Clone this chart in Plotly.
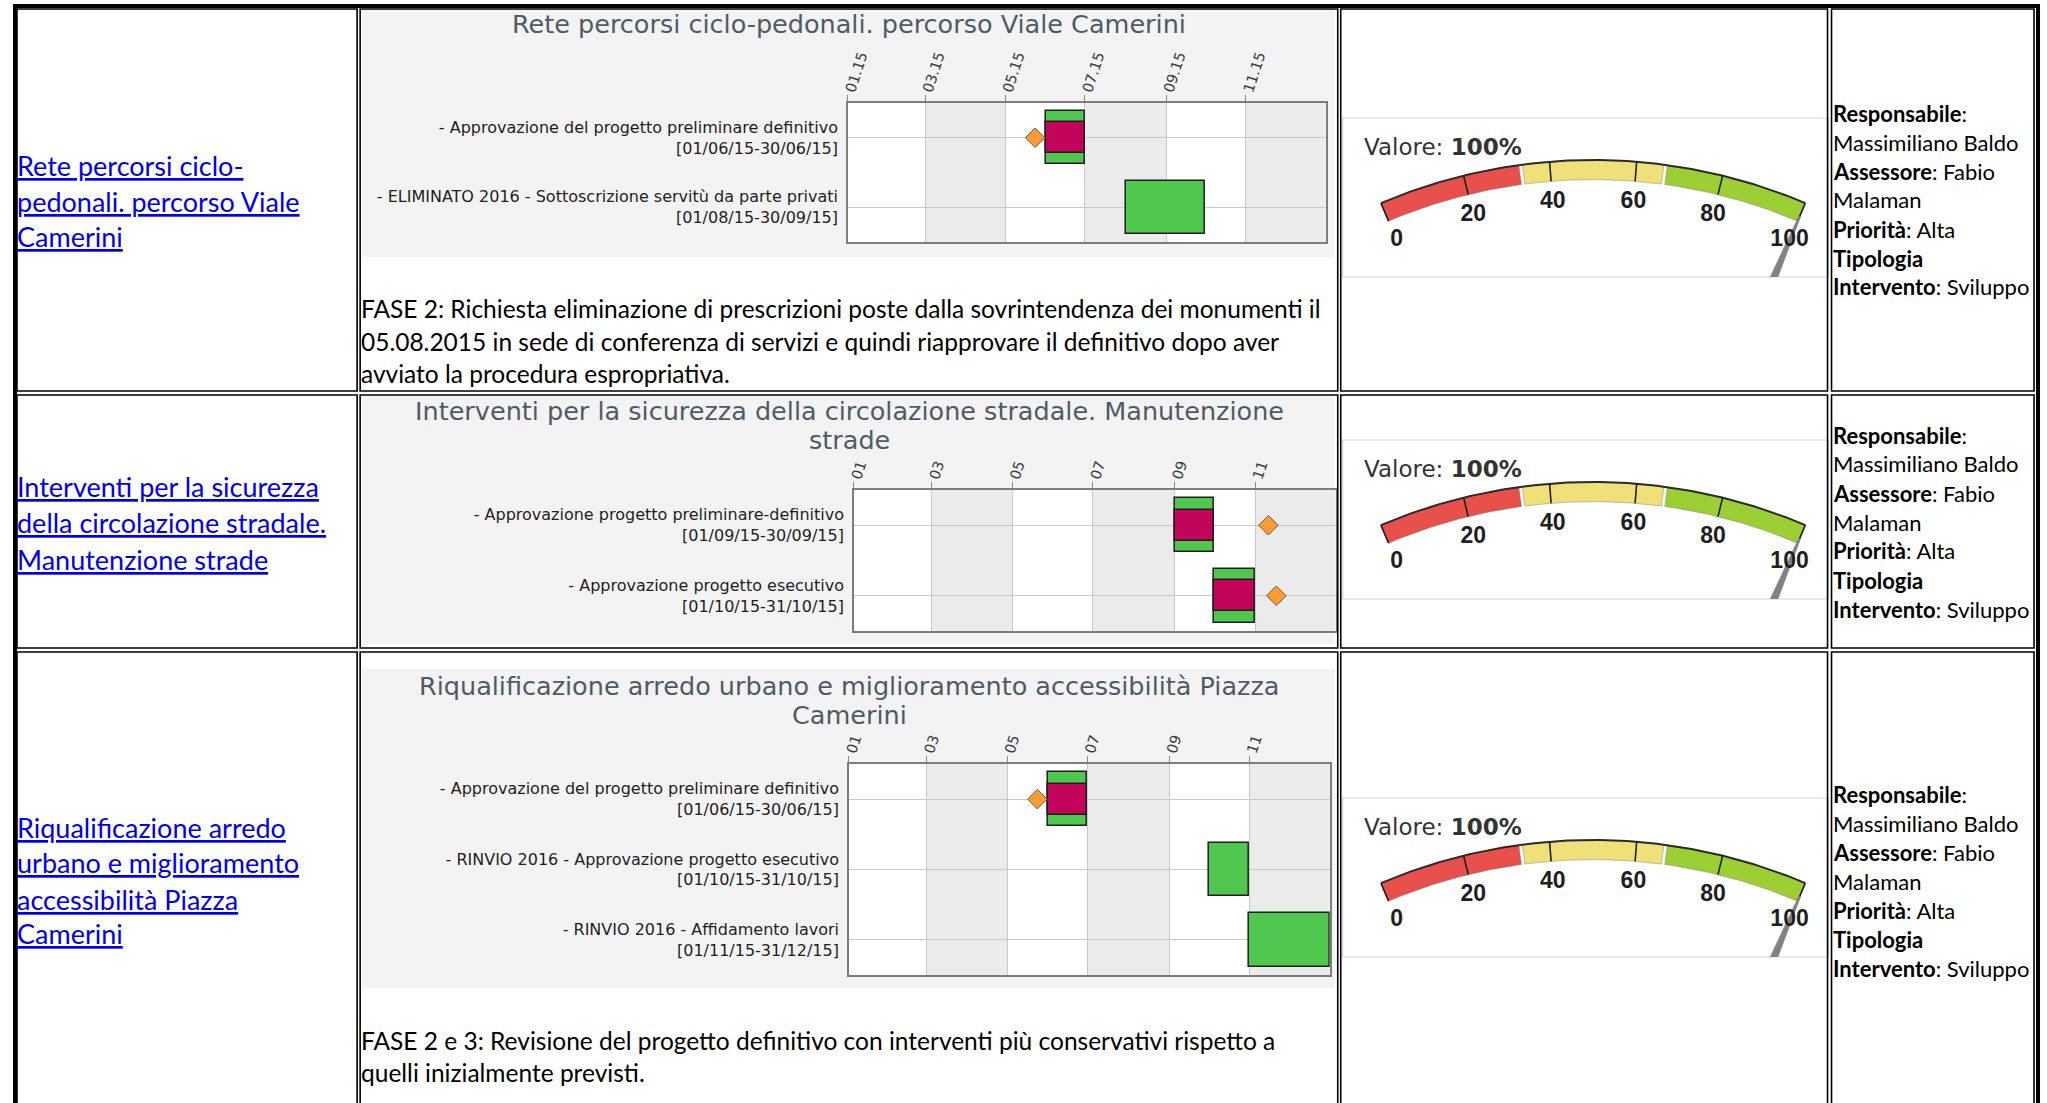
import numpy as np
import pandas as pd
import plotly.graph_objects as go

W, H = 2047, 1103

# ---------------- data ----------------
TICK_DATES = ['2015-01-01', '2015-03-01', '2015-05-01', '2015-07-01', '2015-09-01', '2015-11-01']
TICK_TEXT_LONG = ['01.15', '03.15', '05.15', '07.15', '09.15', '11.15']
TICK_TEXT_SHORT = ['01', '03', '05', '07', '09', '11']
AXIS_RANGE = ['2015-01-01', '2016-01-01']

G1_TITLE = ['Rete percorsi ciclo-pedonali. percorso Viale Camerini']
G1_TASKS = ['- Approvazione del progetto preliminare definitivo<br>[01/06/15-30/06/15]',
            '- ELIMINATO 2016 - Sottoscrizione servitù da parte privati<br>[01/08/15-30/09/15]']
G1_PLAN_START = ['2015-06-01', '2015-08-01']
G1_PLAN_END = ['2015-06-30', '2015-09-30']
G1_REAL_START = ['2015-06-01', None]
G1_REAL_END = ['2015-06-30', None]
G1_MILESTONE = ['2015-05-24', None]

G2_TITLE = ['Interventi per la sicurezza della circolazione stradale. Manutenzione', 'strade']
G2_TASKS = ['- Approvazione progetto preliminare-definitivo<br>[01/09/15-30/09/15]',
            '- Approvazione progetto esecutivo<br>[01/10/15-31/10/15]']
G2_PLAN_START = ['2015-09-01', '2015-10-01']
G2_PLAN_END = ['2015-09-30', '2015-10-31']
G2_REAL_START = ['2015-09-01', '2015-10-01']
G2_REAL_END = ['2015-09-30', '2015-10-31']
G2_MILESTONE = ['2015-11-11', '2015-11-17']

G3_TITLE = ['Riqualificazione arredo urbano e miglioramento accessibilità Piazza', 'Camerini']
G3_TASKS = ['- Approvazione del progetto preliminare definitivo<br>[01/06/15-30/06/15]',
            '- RINVIO 2016 - Approvazione progetto esecutivo<br>[01/10/15-31/10/15]',
            '- RINVIO 2016 - Affidamento lavori<br>[01/11/15-31/12/15]']
G3_PLAN_START = ['2015-06-01', '2015-10-01', '2015-11-01']
G3_PLAN_END = ['2015-06-30', '2015-10-31', '2015-12-31']
G3_REAL_START = ['2015-06-01', None, None]
G3_REAL_END = ['2015-06-30', None, None]
G3_MILESTONE = ['2015-05-24', None, None]

LINK_ROW1 = ['Rete percorsi ciclo-', 'pedonali. percorso Viale', 'Camerini']
LINK_ROW2 = ['Interventi per la sicurezza', 'della circolazione stradale.', 'Manutenzione strade']
LINK_ROW3 = ['Riqualificazione arredo', 'urbano e miglioramento', 'accessibilità Piazza', 'Camerini']

NOTE_ROW1 = ['FASE 2: Richiesta eliminazione di prescrizioni poste dalla sovrintendenza dei monumenti il',
             '05.08.2015 in sede di conferenza di servizi e quindi riapprovare il definitivo dopo aver',
             'avviato la procedura espropriativa.']
NOTE_ROW3 = ['FASE 2 e 3: Revisione del progetto definitivo con interventi più conservativi rispetto a',
             'quelli inizialmente previsti.']

INFO_LINES = ['<b>Responsabile</b>:', 'Massimiliano Baldo', '<b>Assessore</b>: Fabio', 'Malaman',
              '<b>Priorità</b>: Alta', '<b>Tipologia</b>', '<b>Intervento</b>: Sviluppo']

GAUGE_VALUES = [100, 100, 100]
GAUGE_BANDS = [0, 33.3, 66.7, 100]
GAUGE_BAND_COLORS = ['#e8504b', '#f0e07a', '#9ccf33']
GAUGE_LABELS = [0, 20, 40, 60, 80, 100]

# ---------------- styles / layout positions (px) ----------------
GREEN = '#50c850'
MAGENTA = '#c2055a'
ORANGE = '#ff9b30'
EDGE = '#1e1e1e'
GRID = '#c9c9c9'
FRAME = '#7d7d7d'
TITLE_COLOR = '#4e5b67'

GANTT_PLOT = [(845, 1324, 103, 242), (851, 1334, 490, 631), (846, 1328, 764, 975)]
GANTT_PANEL = [(358, 1333, 8, 257), (358, 1333, 396, 644), (358, 1333, 669, 988)]
GANTT_TITLE_Y = [[24], [411, 440], [686, 715]]
GAUGE_PANEL = [(1341, 1828, 118, 277), (1341, 1828, 440, 599), (1341, 1828, 798, 957)]

fig = go.Figure()
shapes = []
annotations = []


def dx(px):
    return px / W


def dy(py):
    return 1 - py / H


def prect(x0, x1, y0, y1, fill=None, line_color=None, lw=0, layer='below'):
    shapes.append(dict(type='rect', xref='paper', yref='paper', x0=dx(x0), x1=dx(x1),
                       y0=dy(y1), y1=dy(y0), layer=layer,
                       fillcolor=fill if fill else 'rgba(0,0,0,0)',
                       line=dict(color=line_color if line_color else 'rgba(0,0,0,0)', width=lw)))


def pann(x, y, text, size, color='#000', family='Lato', xanchor='left', yanchor='middle', **fkw):
    annotations.append(dict(x=dx(x), y=dy(y), xref='paper', yref='paper', text=text,
                            showarrow=False, xanchor=xanchor, yanchor=yanchor, align='left',
                            font=dict(family=family, size=size, color=color, **fkw)))


def dur_ms(s, e):
    return (pd.Timestamp(e) + pd.Timedelta(days=1) - pd.Timestamp(s)).total_seconds() * 1000


gantts = [
    (G1_TITLE, G1_TASKS, G1_PLAN_START, G1_PLAN_END, G1_REAL_START, G1_REAL_END, G1_MILESTONE, TICK_TEXT_LONG),
    (G2_TITLE, G2_TASKS, G2_PLAN_START, G2_PLAN_END, G2_REAL_START, G2_REAL_END, G2_MILESTONE, TICK_TEXT_SHORT),
    (G3_TITLE, G3_TASKS, G3_PLAN_START, G3_PLAN_END, G3_REAL_START, G3_REAL_END, G3_MILESTONE, TICK_TEXT_SHORT),
]

axis_layout = {}
for k, (title, tasks, ps, pe, rs, re_, ms, ttext) in enumerate(gantts, start=1):
    xa = 'x' if k == 1 else f'x{k}'
    ya = 'y' if k == 1 else f'y{k}'
    x0, x1, y0, y1 = GANTT_PLOT[k - 1]
    px0, px1, py0, py1 = GANTT_PANEL[k - 1]
    # panel + white plotting area
    prect(px0, px1, py0, py1, fill='#f3f3f3')
    prect(x0, x1, y0, y1, fill='white')
    # alternating month bands
    band_edges = TICK_DATES + [AXIS_RANGE[1]]
    for i in range(1, len(TICK_DATES), 2):
        shapes.append(dict(type='rect', xref=xa, yref=f'{ya} domain', x0=band_edges[i], x1=band_edges[i + 1],
                           y0=0, y1=1, fillcolor='#ebebeb', line=dict(width=0), layer='below'))
    # title
    for line, ty in zip(title, GANTT_TITLE_Y[k - 1]):
        pann((px0 + px1) / 2 + 1, ty, line, 25.5, color=TITLE_COLOR, family='DejaVu Sans', xanchor='center')

    # planned bars (green)
    fig.add_trace(go.Bar(y=tasks, x=[dur_ms(s, e) for s, e in zip(ps, pe)], base=ps, orientation='h',
                         width=0.76, marker=dict(color=GREEN, line=dict(color=EDGE, width=1.5)),
                         xaxis=xa, yaxis=ya, hoverinfo='skip'))
    # actual bars (magenta)
    idx = [i for i in range(len(tasks)) if rs[i]]
    if idx:
        fig.add_trace(go.Bar(y=[tasks[i] for i in idx], x=[dur_ms(rs[i], re_[i]) for i in idx],
                             base=[rs[i] for i in idx], orientation='h', width=0.44,
                             marker=dict(color=MAGENTA, line=dict(color=EDGE, width=1.5)),
                             xaxis=xa, yaxis=ya, hoverinfo='skip'))
    midx = [i for i in range(len(tasks)) if ms[i]]
    if midx:
        fig.add_trace(go.Scatter(x=[ms[i] for i in midx], y=[tasks[i] for i in midx], mode='markers',
                                 marker=dict(symbol='diamond', size=15, color=ORANGE,
                                             line=dict(color='#5a5a5a', width=1)),
                                 cliponaxis=False, xaxis=xa, yaxis=ya, hoverinfo='skip'))

    axis_layout['xaxis' if k == 1 else f'xaxis{k}'] = dict(
        domain=[dx(x0), dx(x1)], anchor=ya, type='date', range=AXIS_RANGE, side='top',
        tickmode='array', tickvals=TICK_DATES, ticktext=ttext, tickangle=-72,
        ticks='outside', ticklen=6, tickcolor='#8a8a8a', tickwidth=1, ticklabelstandoff=-9,
        showgrid=True, gridcolor=GRID, gridwidth=1, showline=True, mirror=True,
        linecolor=FRAME, linewidth=1.5, zeroline=False, fixedrange=True,
        tickfont=dict(family='DejaVu Sans', size=14.5, color='#3a3a3a'))
    axis_layout['yaxis' if k == 1 else f'yaxis{k}'] = dict(
        domain=[dy(y1), dy(y0)], anchor=xa, type='category', categoryorder='array',
        categoryarray=tasks, range=[len(tasks) - 0.5, -0.5], showgrid=True, gridcolor=GRID,
        showline=True, mirror=True, linecolor=FRAME, linewidth=1.5, ticks='',
        ticklabelstandoff=5, zeroline=False, fixedrange=True,
        tickfont=dict(family='DejaVu Sans', size=16, color='#1e1e1e'))

# ---------------- gauges ----------------
G_CX, G_CY = 251.0, 588.6
R_OUT, R_IN, R_LAB = 546.6, 527.0, 506.0
G_HALF = 22.9


def gpt(v, r):
    a = np.radians(-G_HALF + 2 * G_HALF * np.asarray(v, float) / 100.0)
    return G_CX + r * np.sin(a), G_CY - r * np.cos(a)


for g, val in enumerate(GAUGE_VALUES):
    n = 4 + g
    xa, ya = f'x{n}', f'y{n}'
    gx0, gx1, gy0, gy1 = GAUGE_PANEL[g]
    prect(gx0, gx1, gy0, gy1, fill='white', line_color='#d6d6d6', lw=1.2)
    axis_layout[f'xaxis{n}'] = dict(domain=[dx(gx0), dx(gx1)], anchor=ya, range=[0, gx1 - gx0],
                                    visible=False, fixedrange=True)
    axis_layout[f'yaxis{n}'] = dict(domain=[dy(gy1), dy(gy0)], anchor=xa, range=[gy1 - gy0, 0],
                                    visible=False, fixedrange=True)
    # coloured bands
    for b0, b1, col in zip(GAUGE_BANDS[:-1], GAUGE_BANDS[1:], GAUGE_BAND_COLORS):
        v0 = b0 + 0.4 if b0 > GAUGE_BANDS[0] else b0
        v1 = b1 - 0.4 if b1 < GAUGE_BANDS[-1] else b1
        vs = np.linspace(v0, v1, 40)
        xo, yo = gpt(vs, R_OUT)
        xi, yi = gpt(vs[::-1], R_IN)
        fig.add_trace(go.Scatter(x=np.r_[xo, xi, xo[:1]], y=np.r_[yo, yi, yo[:1]], mode='lines',
                                 fill='toself', fillcolor=col,
                                 line=dict(color='rgba(120,120,120,0.55)', width=0.8),
                                 xaxis=xa, yaxis=ya, hoverinfo='skip'))
    # outer edge
    vs = np.linspace(GAUGE_BANDS[0], GAUGE_BANDS[-1], 160)
    xo, yo = gpt(vs, R_OUT)
    fig.add_trace(go.Scatter(x=xo, y=yo, mode='lines', line=dict(color='#2a2a2a', width=2),
                             xaxis=xa, yaxis=ya, hoverinfo='skip'))
    # tick marks
    tx, ty = [], []
    for v in GAUGE_LABELS:
        a1, b1_ = gpt(v, R_IN)
        a2, b2_ = gpt(v, R_OUT)
        tx += [a1, a2, None]
        ty += [b1_, b2_, None]
    fig.add_trace(go.Scatter(x=tx, y=ty, mode='lines', line=dict(color='#1e1e1e', width=1.6),
                             xaxis=xa, yaxis=ya, hoverinfo='skip'))
    # needle
    a = np.radians(-G_HALF + 2 * G_HALF * val / 100.0)
    px_, py_ = np.cos(a), np.sin(a)  # perpendicular direction
    tipx, tipy = gpt(val, 532)
    basx, basy = gpt(val, 380)
    nx = [tipx - 1.0 * px_, tipx + 1.0 * px_, basx + 7 * px_, basx - 7 * px_, tipx - 1.0 * px_]
    ny = [tipy - 1.0 * py_, tipy + 1.0 * py_, basy + 7 * py_, basy - 7 * py_, tipy - 1.0 * py_]
    fig.add_trace(go.Scatter(x=nx, y=ny, mode='lines', fill='toself', fillcolor='#828282',
                             line=dict(color='#828282', width=0.5), xaxis=xa, yaxis=ya, hoverinfo='skip'))
    # labels
    lx, ly = gpt(GAUGE_LABELS, R_LAB)
    fig.add_trace(go.Scatter(x=lx, y=ly, mode='text', text=[str(v) for v in GAUGE_LABELS],
                             textposition='middle center',
                             textfont=dict(family='Liberation Sans', size=23, color='#1e1e1e', weight='bold'),
                             xaxis=xa, yaxis=ya, hoverinfo='skip'))
    annotations.append(dict(x=19, y=29, xref=xa, yref=ya, text=f'Valore: <b>{val}%</b>', showarrow=False,
                            xanchor='left', yanchor='middle',
                            font=dict(family='DejaVu Sans', size=23, color='#333333')))

# ---------------- text cells ----------------
LINK_Y = [[166, 201, 236], [487, 522, 559], [827, 863, 899, 933]]
for lines, ys in zip([LINK_ROW1, LINK_ROW2, LINK_ROW3], LINK_Y):
    for line, yy in zip(lines, ys):
        pann(10, yy, line, 27, color='#0000ee', lineposition='under')

INFO_Y0 = [113, 435, 794]
for y0 in INFO_Y0:
    for i, line in enumerate(INFO_LINES):
        pann(1830, y0 + 29 * i, line, 22, color='#000000')

for line, yy in zip(NOTE_ROW1, [308, 341, 373]):
    pann(355, yy, line, 24.5, color='#000000')
for line, yy in zip(NOTE_ROW3, [1040, 1072]):
    pann(355, yy, line, 24.5, color='#000000')

# ---------------- table borders ----------------
prect(10, 2038, 6, 1200, line_color='black', lw=4, layer='above')
COLS = [(12, 353), (356, 1336), (1339, 1827), (1831, 2034)]
ROWS = [(9, 391), (395, 648), (652, 1200)]
for (cx0, cx1) in COLS:
    for (ry0, ry1) in ROWS:
        prect(cx0, cx1, ry0, ry1, line_color='black', lw=1.6, layer='above')

fig.update_layout(width=W, height=H, margin=dict(l=0, r=0, t=0, b=0), paper_bgcolor='white',
                  plot_bgcolor='rgba(0,0,0,0)', showlegend=False, barmode='overlay', bargap=0,
                  shapes=shapes, annotations=annotations, **axis_layout)

fig.write_html('out.html', config={'displayModeBar': False},
               post_script="document.body.style.margin='0px';document.body.style.overflow='hidden';")
